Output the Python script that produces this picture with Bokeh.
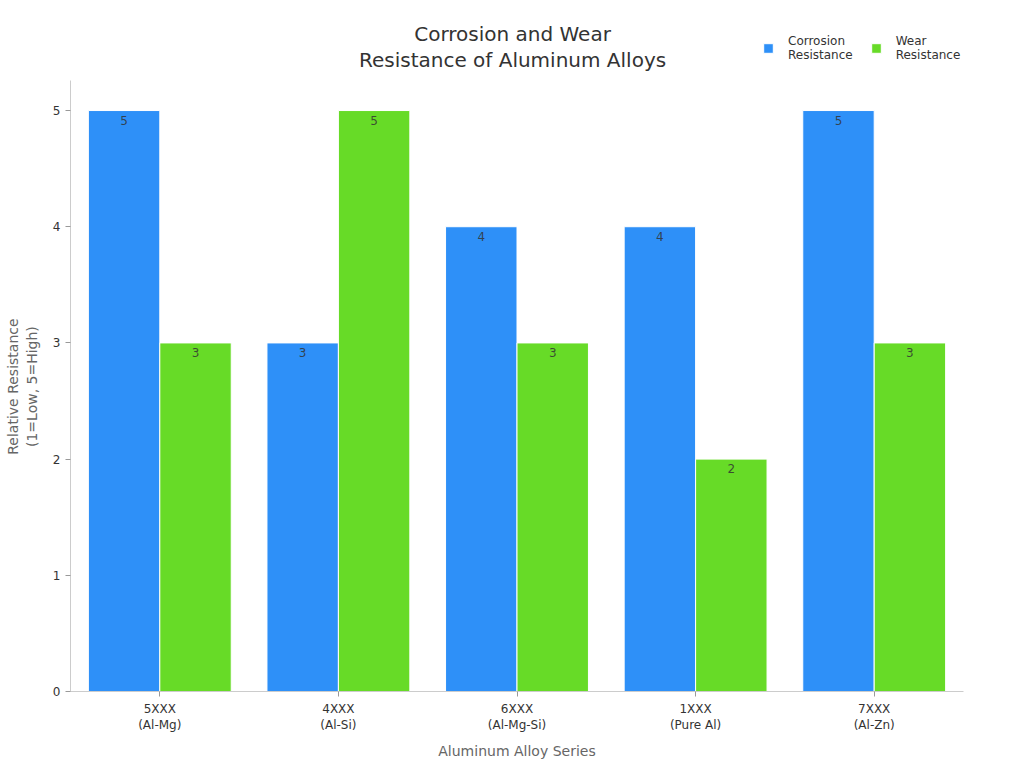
from bokeh.plotting import figure
from bokeh.models import ColumnDataSource, FactorRange, Range1d, Legend, LegendItem, Label
from bokeh.transform import dodge
from bokeh.core.properties import value
from bokeh.embed import file_html
from bokeh.resources import INLINE

categories = ["5XXX\n(Al-Mg)", "4XXX\n(Al-Si)", "6XXX\n(Al-Mg-Si)", "1XXX\n(Pure Al)", "7XXX\n(Al-Zn)"]
corrosion = [5, 3, 4, 4, 5]
wear = [3, 5, 3, 2, 3]
series_names = ["Corrosion\nResistance", "Wear\nResistance"]
colors = ["#2E90F8", "#67DB27"]
yticks = [0, 1, 2, 3, 4, 5]
title_lines = ["Corrosion and Wear", "Resistance of Aluminum Alloys"]
y_label_lines = ["Relative Resistance", "(1=Low, 5=High)"]

FONT = "DejaVu Sans"
Y_AXIS_TOP = 5.26
PAD = "\u00a0" * 16  # shifts the y-axis label to the centre of the visible axis

src = ColumnDataSource(data=dict(
    cat=categories,
    corr=corrosion,
    wear=wear,
    corr_txt=[str(v) for v in corrosion],
    wear_txt=[str(v) for v in wear],
))

p = figure(width=1010, height=762, x_range=FactorRange(*categories, range_padding=0),
           y_range=Range1d(0, 5.861), output_backend="svg", toolbar_location=None,
           title_location=None,
           min_border_left=70, min_border_right=47, min_border_top=10, min_border_bottom=67)

r1 = p.vbar(x=dodge("cat", -0.2, range=p.x_range), top="corr", width=0.4, source=src,
            fill_color=colors[0], line_color="white", line_width=1)
r2 = p.vbar(x=dodge("cat", 0.2, range=p.x_range), top="wear", width=0.4, source=src,
            fill_color=colors[1], line_color="white", line_width=1)

for xo, col in ((-0.2, "corr"), (0.2, "wear")):
    p.text(x=dodge("cat", xo, range=p.x_range), y=col, text=col + "_txt", source=src,
           text_align="center", text_baseline="top", y_offset=5, text_font_size="12px",
           text_color="#333333", text_alpha=0.85, text_font=value(FONT))

for txt, yy in zip(title_lines, [5.663, 5.439]):
    p.add_layout(Label(x=2.475, y=yy, text=txt, text_align="center", text_baseline="middle",
                       text_font=FONT, text_font_size="20px", text_color="#333333"))

p.xgrid.grid_line_color = None
p.ygrid.grid_line_color = None
p.outline_line_color = None
p.background_fill_color = "white"

for ax in (p.xaxis[0], p.yaxis[0]):
    ax.axis_line_color = "#cccccc"
    ax.major_tick_line_color = "#999999"
    ax.major_tick_out = 5
    ax.major_tick_in = 0
    ax.minor_tick_line_color = None
    ax.major_label_text_font = FONT
    ax.major_label_text_font_size = "12px"
    ax.major_label_text_color = "#333333"
    ax.axis_label_text_font = FONT
    ax.axis_label_text_font_size = "14px"
    ax.axis_label_text_font_style = "normal"
    ax.axis_label_text_color = "#666666"

p.yaxis[0].ticker = yticks
p.yaxis[0].bounds = (0, Y_AXIS_TOP)
p.yaxis[0].axis_label_standoff = 10
p.xaxis[0].axis_label_standoff = 8
p.xaxis[0].axis_label = "Aluminum Alloy Series"
p.yaxis[0].axis_label = "\n".join(line + PAD for line in y_label_lines)

legend = Legend(items=[LegendItem(label=series_names[0], renderers=[r1]),
                       LegendItem(label=series_names[1], renderers=[r2])],
                orientation="horizontal", border_line_color=None, background_fill_alpha=0,
                label_text_font=FONT, label_text_font_size="12px", label_text_color="#333333",
                glyph_width=12, glyph_height=12, spacing=17, label_standoff=14,
                padding=0, margin=0, location=(692, 629))
p.add_layout(legend, "center")

open("out.html", "w").write(file_html(p, INLINE))
